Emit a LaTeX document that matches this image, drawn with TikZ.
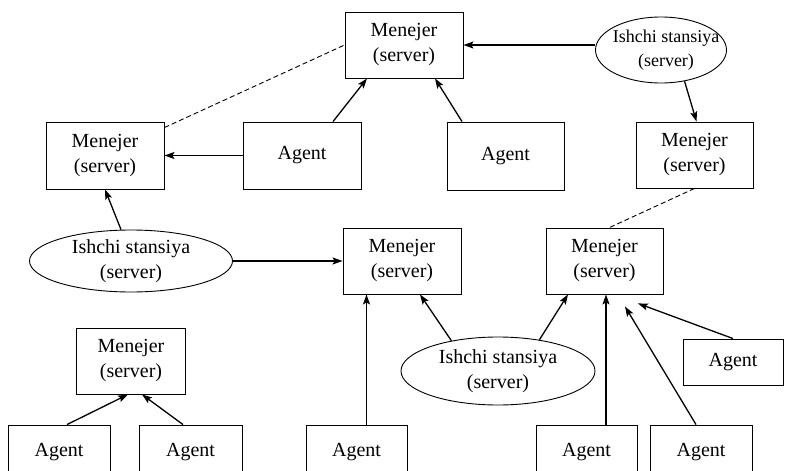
\documentclass[tikz,border=0pt]{standalone}
\usepackage{fontspec}
\setmainfont{Liberation Serif}
\usetikzlibrary{arrows.meta,shapes.geometric}
\begin{document}
\begin{tikzpicture}[x=1pt,y=-1pt,
  txt/.style={font=\fontsize{20}{25}\selectfont,align=center,inner sep=0pt},
  smalltxt/.style={font=\fontsize{18}{24}\selectfont,align=center,inner sep=0pt},
  box/.style={draw,line width=0.9pt,rectangle,txt},
  ell/.style={draw,line width=0.9pt,ellipse,inner sep=0pt},
  arr/.style={line width=1.3pt,-{Stealth[length=10pt,width=7pt,inset=2pt]}},
  dashline/.style={line width=0.9pt,dash pattern=on 5pt off 3pt}]
\useasboundingbox (0,0) rectangle (785,471);
\clip (0,0) rectangle (785,471);
% rectangles
\node[box,minimum width=118pt,minimum height=66pt] (M1) at (404,45) {Menejer\\(server)};
\node[box,minimum width=118pt,minimum height=67pt] (M2) at (105,155.5) {Menejer\\(server)};
\node[box,minimum width=118pt,minimum height=67pt] (A1) at (302,155.5) {Agent};
\node[box,minimum width=117pt,minimum height=68pt] (A2) at (505.5,156) {Agent};
\node[box,minimum width=117pt,minimum height=66pt] (M3) at (694.5,155) {Menejer\\(server)};
\node[box,minimum width=118pt,minimum height=66pt] (M4) at (402,261) {Menejer\\(server)};
\node[box,minimum width=117pt,minimum height=66pt] (M5) at (604.5,261) {Menejer\\(server)};
\node[box,minimum width=100pt,minimum height=46pt] (A3) at (733,362) {Agent};
\node[box,minimum width=109pt,minimum height=66pt] (M6) at (131,361) {Menejer\\(server)};
\node[box,minimum width=102pt,minimum height=55pt] (A4) at (59,452.5) {Agent};
\node[box,minimum width=103pt,minimum height=55pt] (A5) at (190.5,452.5) {Agent};
\node[box,minimum width=101pt,minimum height=55pt] (A6) at (356.5,452.5) {Agent};
\node[box,minimum width=101pt,minimum height=55pt] (A7) at (586.5,452.5) {Agent};
\node[box,minimum width=102pt,minimum height=55pt] (A8) at (701,452.5) {Agent};
% ellipses
\node[ell,minimum width=131pt,minimum height=66pt] (E1) at (661,50) {};
\node[smalltxt] (E1t) at ([xshift=5pt]E1.center) {Ishchi stansiya\\(server)};
\node[ell,minimum width=203pt,minimum height=62pt] (E2) at (131,261) {};
\node[txt] (E2t) at (E2) {Ishchi stansiya\\(server)};
\node[ell,minimum width=194pt,minimum height=68pt] (E3) at (498,371) {};
\node[txt] (E3t) at (E3) {Ishchi stansiya\\(server)};
% connectors
\draw[arr] (E1.west |- M1.east) -- (M1.east);
\draw[arr] (E1.-53) -- ([xshift=2pt]M3.north);
\draw[arr] ([xshift=31pt]A1.north) -- ([xshift=-37pt]M1.south);
\draw[arr] ([xshift=-43.5pt]A2.north) -- ([xshift=31pt]M1.south);
\draw[arr] (A1.west) -- (M2.east);
\draw[dashline] ([yshift=-6pt]M2.north east) -- (M1.west);
\draw[dashline] (M3.south) -- ([xshift=5pt]M5.north);
\draw[arr] ([xshift=-10pt]E2.north) -- (M2.south);
\draw[arr] (E2.east) -- (M4.west);
\draw[arr] ([xshift=10pt]A6.north) -- ([xshift=10pt]A6.north |- M4.south);
\draw[arr] (E3.147) -- ([xshift=18pt]M4.south);
\draw[arr] (E3.37) -- ([xshift=-36.5pt]M5.south);
\draw[arr] ([xshift=19.5pt]A7.north) -- ([xshift=19.5pt]A7.north |- M5.south);
\draw[arr] ([xshift=-5pt]A8.north) -- ([xshift=20.5pt,yshift=-12pt]M5.south);
\draw[arr] (A3.north) -- ([xshift=33.5pt,yshift=-9pt]M5.south);
\draw[arr] ([xshift=8pt]A4.north) -- ([xshift=-3pt]M6.south);
\draw[arr] ([xshift=-7.5pt]A5.north) -- ([xshift=11pt]M6.south);
\end{tikzpicture}
\end{document}
